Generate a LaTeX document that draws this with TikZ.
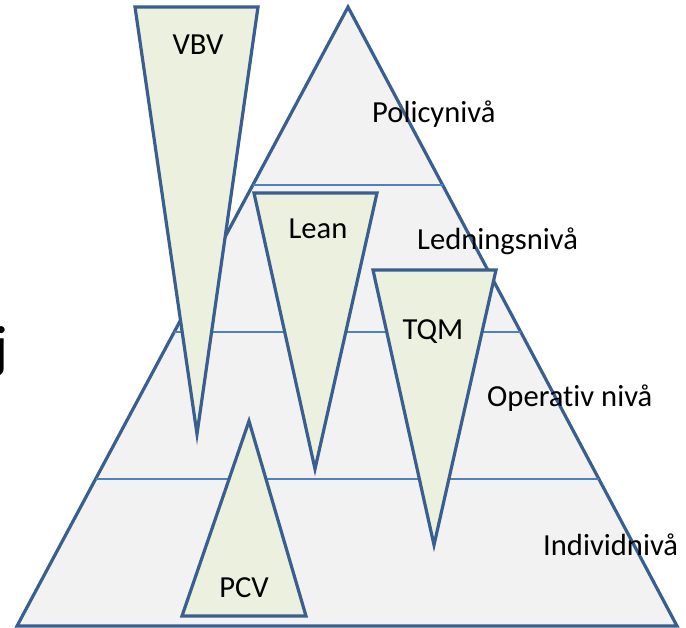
\documentclass[tikz,border=0pt]{standalone}
\usepackage{fontspec}
\setmainfont{Carlito}[Ligatures=NoCommon]
\definecolor{edgeblue}{HTML}{3A5F8E}
\definecolor{lineblue}{HTML}{4F81BD}
\definecolor{pyrfill}{HTML}{F2F2F2}
\definecolor{trifill}{HTML}{EBF1DE}
\begin{document}
\begin{tikzpicture}[x=1pt,y=-1pt,
  pyr/.style={fill=pyrfill,draw=edgeblue,line width=3.2pt,line join=miter},
  tri/.style={fill=trifill,draw=edgeblue,line width=3.2pt,line join=miter},
  lvl/.style={draw=lineblue,line width=1.3pt},
  lab/.style={font=\fontsize{30.6}{36}\selectfont,inner sep=0pt,text=black}]
\clip (0,0) rectangle (686,628);
% main pyramid
\path[pyr] (348,7) -- (677,626) -- (17,626) -- cycle;
% level lines
\draw[lvl] (252.8,185) -- (442.6,185);
\draw[lvl] (174.2,332) -- (520.7,332);
\draw[lvl] (95.6,479) -- (598.9,479);
% inner triangles
\path[tri] (135,7) -- (258,7) -- (197,434) -- cycle;
\path[tri] (254,193) -- (377,193) -- (315,469) -- cycle;
\path[tri] (373,270) -- (496,270) -- (434,545) -- cycle;
\path[tri] (249,421) -- (306,616) -- (182,616) -- cycle;
% labels
\node[lab,anchor=base] (vbv) at (198,55) {VBV};
\node[lab,anchor=base] (lean) at (318,239) {Lean};
\node[lab,anchor=base] (tqm) at (433,340) {TQM};
\node[lab,anchor=base] (pcv) at (244,597) {PCV};
\node[lab,anchor=base west] (policy) at (372,123) {Policynivå};
\node[lab,anchor=base west] (ledning) at (417,250) {Ledningsnivå};
\node[lab,anchor=base west] (operativ) at (487,407) {Operativ nivå};
\node[lab,anchor=base west] (individ) at (543,555) {Individnivå};
\node[inner sep=0pt,anchor=base west,font=\fontsize{58}{64}\selectfont] (jletter) at (-6,367) {j};
\end{tikzpicture}
\end{document}
